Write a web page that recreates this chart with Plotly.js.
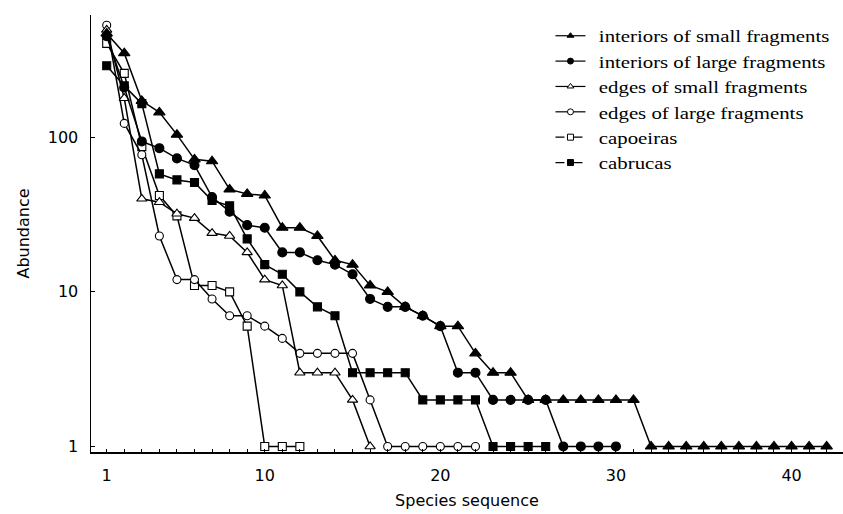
<!DOCTYPE html>
<html><head><meta charset="utf-8">
<script src="https://cdn.plot.ly/plotly-3.0.1.min.js"></script>
<style>html,body{margin:0;padding:0;background:#fff}#chart{width:843px;height:514px}
#chart .legendtext{transform:scaleX(1.21)}
#chart .legend .scrollbox{clip-path:none !important}
#chart .legend{overflow:visible}</style>
</head><body><div id="chart"></div>
<script>
// Abundance by species rank (species sequence 1..n)
const interiorsSmall = [470,350,172,145,104,72,70,46,43,42,26,26,23,16,15,11,10,8,7,6,6,4,3,3,2,2,2,2,2,2,2,1,1,1,1,1,1,1,1,1,1,1];
const interiorsLarge = [450,210,94,85,73,66,41,33,27,26,18,18,16,15,13,9,8,8,7,6,3,3,2,2,2,2,1,1,1,1];
const edgesSmall = [495,179,40,38,32,30,24,23,18,12,11,3,3,3,2,1];
const edgesLarge = [530,123,77,23,12,12,9,7,7,6,5,4,4,4,4,2,1,1,1,1,1,1];
const capoeiras = [405,259,87,42,31,11,11,10,6,1,1,1];
const cabrucas = [290,215,165,58,53,51,39,36,22,15,13,10,8,7,3,3,3,3,2,2,2,2,1,1,1,1];

const seriesNames = ["interiors of small fragments","interiors of large fragments","edges of small fragments","edges of large fragments","capoeiras","cabrucas"];
const seriesValues = [interiorsSmall, interiorsLarge, edgesSmall, edgesLarge, capoeiras, cabrucas];
const xTickVals = [1,10,20,30,40];
const xTickText = ["1","10","20","30","40"];
const yTickVals = [1,10,100];
const yTickText = ["1","10","100"];

const styles = [
  {symbol:"triangle-up", fill:"#000", size:10, legDash:"solid"},
  {symbol:"circle", fill:"#000", size:9, legDash:"solid"},
  {symbol:"triangle-up", fill:"#fff", size:9, legDash:"solid"},
  {symbol:"circle", fill:"#fff", size:8, legDash:"solid"},
  {symbol:"square", fill:"#fff", size:8, legDash:"dash"},
  {symbol:"square", fill:"#000", size:8, legDash:"dash"}
];

const traces = [];
[5,4,3,2,1,0].forEach(k => {
  const vals = seriesValues[k];
  traces.push({
    type:"scatter", mode:"lines+markers", name:seriesNames[k], showlegend:false,
    x: vals.map((v,i)=>i+1), y: vals,
    line:{color:"#000", width:1.5},
    marker:{symbol:styles[k].symbol, size:styles[k].size, color:styles[k].fill, line:{color:"#000", width:1.1}}
  });
});
seriesNames.forEach((n,k) => {
  traces.push({
    type:"scatter", mode:"lines+markers", name:n, x:[null], y:[null],
    line:{color:"#000", width:1.2, dash:styles[k].legDash},
    marker:{symbol:styles[k].symbol, size:6, color:styles[k].fill, line:{color:"#000", width:1}}
  });
});

const layout = {
  width:843, height:514,
  margin:{l:91, r:0, t:15, b:62},
  paper_bgcolor:"#fff", plot_bgcolor:"#fff",
  font:{family:"DejaVu Sans, Verdana, sans-serif", size:16, color:"#000"},
  xaxis:{
    range:[0.106, 42.93], showgrid:false, zeroline:false,
    showline:true, linecolor:"#000", linewidth:1.5,
    tickvals:xTickVals, ticktext:xTickText, ticks:"inside", ticklen:3, tickcolor:"#000",
    minor:{dtick:1, tick0:0, ticks:"inside", ticklen:3, tickcolor:"#000"},
    tickfont:{size:16}, ticklabelstandoff:8,
    title:{text:"Species sequence", font:{size:16}, standoff:11}
  },
  yaxis:{
    type:"log", range:[-0.036, 2.791], showgrid:false, zeroline:false,
    showline:true, linecolor:"#000", linewidth:1.5,
    tickvals:yTickVals, ticktext:yTickText, ticks:"inside", ticklen:4, tickcolor:"#000",
    tickfont:{size:16}, ticklabelstandoff:8,
    title:{text:"Abundance", font:{size:16}, standoff:14}
  },
  legend:{
    x:0.611, y:0.993, xanchor:"left", yanchor:"top",
    bgcolor:"rgba(255,255,255,0)", borderwidth:0,
    font:{family:"Liberation Serif, Times New Roman, serif", size:17.2, color:"#000"},
    itemwidth:30
  }
};

Plotly.newPlot("chart", traces, layout, {displayModeBar:false, staticPlot:true});
</script>
</body></html>
